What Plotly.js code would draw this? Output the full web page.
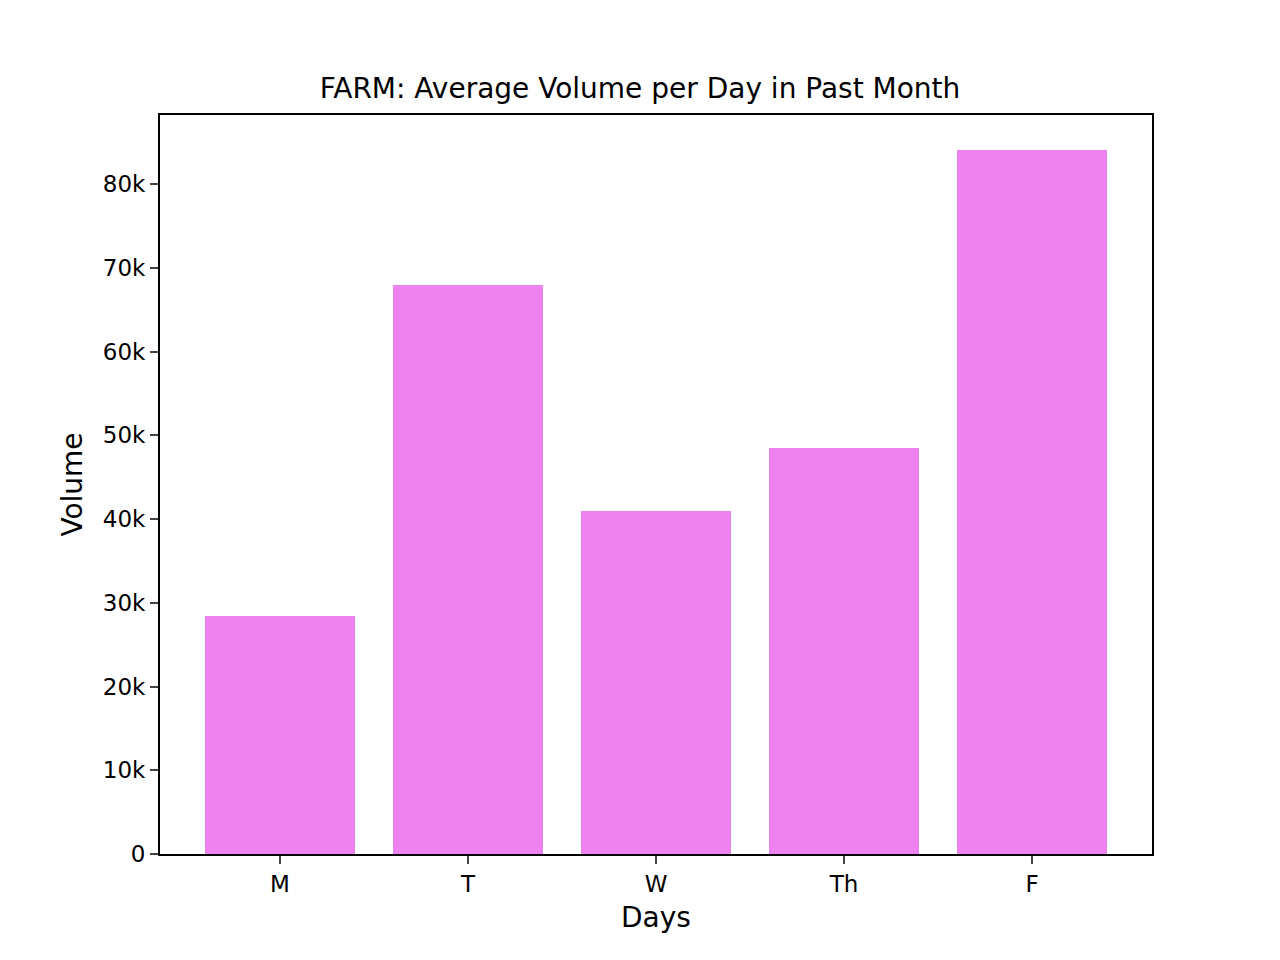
<!DOCTYPE html>
<html><head><script src="https://cdn.plot.ly/plotly-3.0.1.min.js"></script>
<style>body{margin:0}</style></head><body>
<div id="c" style="width:1280px;height:960px"></div>
<script>
const days = ["M","T","W","Th","F"];
const volumes = [28400, 67900, 40950, 48500, 84050];
Plotly.newPlot("c",[{type:"bar",x:days,y:volumes,marker:{color:"#EE82EE"},width:0.8}],{
  width:1280,height:960,
  margin:{l:160,r:128,t:115,b:106},
  font:{family:"DejaVu Sans",size:23,color:"#000"},
  title:{text:"FARM: Average Volume per Day in Past Month",x:0.5,xanchor:"center",y:1-88/960,yanchor:"middle",font:{size:28}},
  xaxis:{range:[-0.638,4.638],showline:true,mirror:true,linecolor:"#000",linewidth:2,ticks:"outside",ticklen:8,tickwidth:2,
    title:{text:"Days",standoff:12}},
  yaxis:{range:[0,88240],dtick:10000,showgrid:false,zeroline:false,showline:true,mirror:true,linecolor:"#000",linewidth:2,ticks:"outside",ticklen:8,tickwidth:2,
    title:{text:"Volume",standoff:12}},
  plot_bgcolor:"#fff",paper_bgcolor:"#fff",bargap:0
},{displayModeBar:false});
</script></body></html>
